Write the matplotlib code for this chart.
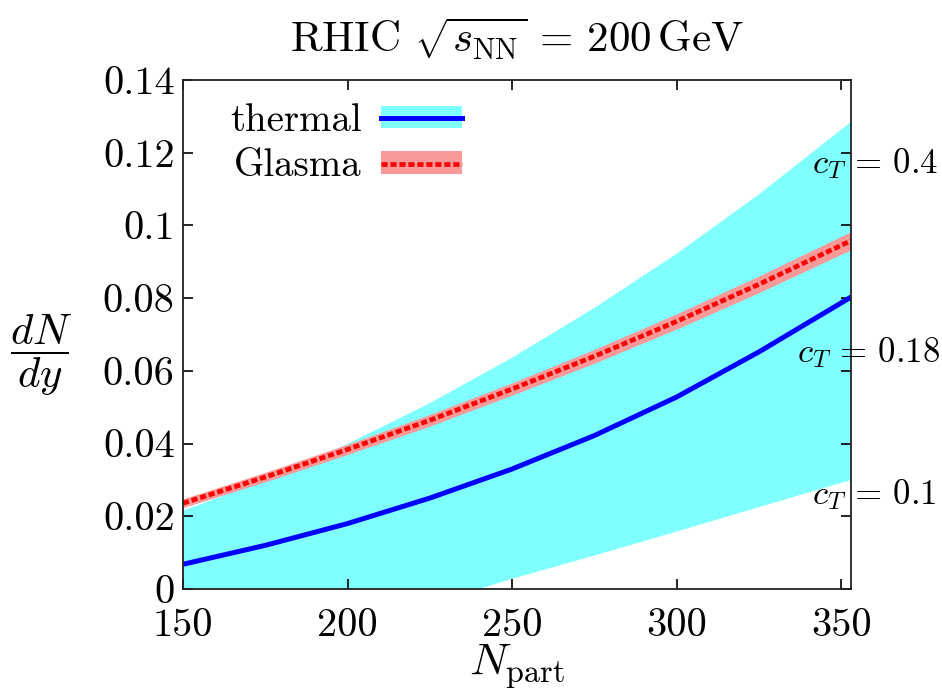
import matplotlib
matplotlib.use("Agg")
import matplotlib.pyplot as plt
from matplotlib.patches import Patch
from matplotlib.lines import Line2D

plt.rcParams['font.family'] = ['cmr10', 'DejaVu Serif']
plt.rcParams['mathtext.fontset'] = 'cm'
plt.rcParams['axes.formatter.use_mathtext'] = True

# ---- data ----
npart = [150, 175, 200, 225, 250, 275, 300, 325, 353]
thermal = [0.0068, 0.0120, 0.0180, 0.0250, 0.0330, 0.0422, 0.0528, 0.0652, 0.0803]
band_upper = [0.0215, 0.0300, 0.0399, 0.0511, 0.0636, 0.0773, 0.0922, 0.1085, 0.1285]
npart_lower = [150, 240, 250, 275, 300, 325, 353]
band_lower = [0.0, 0.0, 0.0028, 0.0092, 0.0158, 0.0225, 0.0300]
glasma = [0.0236, 0.0308, 0.0384, 0.0464, 0.0550, 0.0640, 0.0736, 0.0838, 0.0958]
glasma_err = [0.0012, 0.0013, 0.0014, 0.0016, 0.0017, 0.0019, 0.0021, 0.0023, 0.0025]

xticks = [150, 200, 250, 300, 350]
yticks = [0, 0.02, 0.04, 0.06, 0.08, 0.1, 0.12, 0.14]
ytick_labels = ['0', '0.02', '0.04', '0.06', '0.08', '0.1', '0.12', '0.14']
ct_labels = [r'$c_T \,=\, 0.4$', r'$c_T \,=\, 0.18$', r'$c_T \,=\, 0.1$']
ct_pos = [(341.0, 0.117), (336.5, 0.065), (341.0, 0.026)]

CYAN = '#80ffff'
BLUE = '#0000ff'
RED = '#ff0000'
PINK = '#f89a9a'

fig = plt.figure(figsize=(9.42, 6.90), dpi=100)
ax = fig.add_axes([183/942, 1-589/690, (851-183)/942, (589-80)/690])

# thermal band (c_T = 0.1 ... 0.4)
poly_x = list(npart) + list(npart_lower[::-1])
poly_y = list(band_upper) + list(band_lower[::-1])
ax.fill(poly_x, poly_y, color=CYAN, lw=0, zorder=1)

# Glasma band
g_lo = [g - e for g, e in zip(glasma, glasma_err)]
g_hi = [g + e for g, e in zip(glasma, glasma_err)]
ax.fill_between(npart, g_lo, g_hi, color=PINK, lw=0, zorder=2)

ax.plot(npart, thermal, color=BLUE, lw=3.6, zorder=3, solid_capstyle='butt',
        solid_joinstyle='round')
ax.plot(npart, glasma, color=RED, lw=3.4, zorder=4, dashes=(1.3, 0.6),
        dash_capstyle='butt')

ax.set_xlim(150, 353)
ax.set_ylim(0, 0.14)
ax.set_xticks(xticks)
ax.set_xticklabels([str(v) for v in xticks])
ax.set_yticks(yticks)
ax.set_yticklabels(ytick_labels)
ax.tick_params(direction='in', length=7, width=1.2, top=True, right=True,
               labelsize=29, colors='black')
ax.tick_params(axis='x', pad=14)
ax.tick_params(axis='y', pad=6)
for s in ax.spines.values():
    s.set_linewidth(1.3)
    s.set_color('#222222')
    s.set_zorder(10)

ax.set_xlabel(r'$N_{\rm part}$', fontsize=33, labelpad=-1)
ax.set_ylabel(r'$\dfrac{dN}{dy}$', fontsize=31, rotation=0, va='center',
              ha='center')
ax.yaxis.set_label_coords(-0.212, 0.46)
ax.set_title(r'RHIC $\sqrt{s_{\rm NN}} \,=\, 200\,{\rm GeV}$', fontsize=31,
             pad=20)

for lab, (xx, yy) in zip(ct_labels, ct_pos):
    ax.text(xx, yy, lab, fontsize=25, ha='left', va='center', clip_on=False,
            zorder=11)

h_th = (Patch(facecolor=CYAN, edgecolor='none'),
        Line2D([], [], color=BLUE, lw=3.6))
h_gl = (Patch(facecolor=PINK, edgecolor='none'),
        Line2D([], [], color=RED, lw=3.4, dashes=(1.3, 0.6)))
leg = ax.legend([h_th, h_gl], ['thermal', 'Glasma'], loc='upper left',
                bbox_to_anchor=(0.07, 0.955), frameon=False, fontsize=28,
                markerfirst=False, handlelength=2.1, handleheight=0.5,
                handletextpad=0.5, labelspacing=0.25, borderpad=0,
                borderaxespad=0)

fig.savefig('out.png', dpi=100)
